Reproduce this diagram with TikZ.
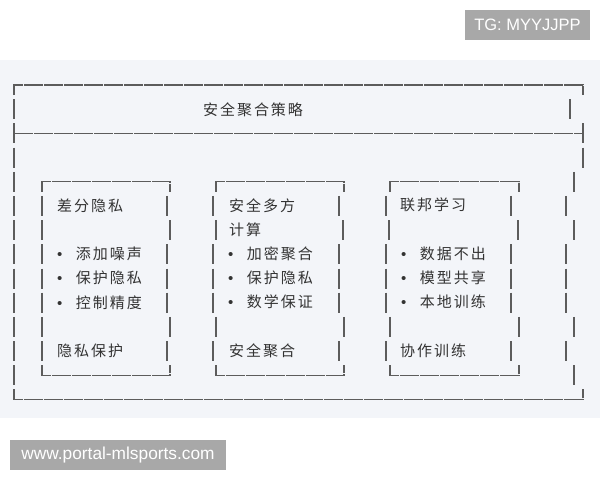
\documentclass[tikz,border=0pt]{standalone}
\usepackage{fontspec}
\newfontfamily\cjk[LetterSpace=13]{Noto Sans CJK SC}
\newfontfamily\wmfont{Liberation Sans}
\usetikzlibrary{positioning}
\definecolor{PanelBg}{HTML}{F3F5F9}
\definecolor{CLine}{HTML}{5C5C5C}
\definecolor{CText}{HTML}{333333}
\definecolor{CMark}{HTML}{A8A8A8}
\tikzset{
  boxline/.style={CLine, line width=1.1pt, dash pattern=on 19pt off 1pt},
  vbar/.style={CLine, line width=1.2pt},
  cjktext/.style={font=\cjk\fontsize{15}{18}\selectfont, text=CText, inner sep=0pt, anchor=west},
  wmbox/.style={fill=CMark, text=white, font=\wmfont\fontsize{16.5}{20}\selectfont, inner sep=0pt}
}
\newcommand{\dotitem}{{\wmfont\fontsize{15}{18}\selectfont •}\hspace{13.5pt}}

\begin{document}
\begin{tikzpicture}[x=1pt, y=-1pt]
    \useasboundingbox (0,0) rectangle (600,480);
    \fill[white] (0,0) rectangle (600,480);
    % Panel
    \fill[PanelBg] (0,60) rectangle (600,418);

    % Outer frame (rows 0, 2, 13)
    \draw[boxline] (14,95) -- (14,85) -- (583,85) -- (583,95);
    \draw[boxline] (14,{85+24.19*2}) -- (583,{85+24.19*2});
    \draw[vbar] (14,{85+24.19*2-10}) -- ++(0,20);
    \draw[vbar] (583,{85+24.19*2-10}) -- ++(0,20);
    \draw[boxline] (14,{85+24.19*13-10}) -- (14,{85+24.19*13}) -- (583,{85+24.19*13}) -- (583,{85+24.19*13-10});

    % Inner boxes: top row 4, bottom row 12
    \foreach \xa/\xb in {42/170, 216/344, 390/519} {
        \draw[boxline] (\xa,{85+24.19*4+10}) -- (\xa,{85+24.19*4}) -- (\xb,{85+24.19*4}) -- (\xb,{85+24.19*4+10});
        \draw[boxline] (\xa,{85+24.19*12-10}) -- (\xa,{85+24.19*12}) -- (\xb,{85+24.19*12}) -- (\xb,{85+24.19*12-10});
    }

    % Vertical bars, outer frame
    \foreach \x/\r in {14/1, 14/3, 14/4, 14/5, 14/6, 14/7, 14/8, 14/9, 14/10, 14/11, 14/12,
                       570/1, 583/3, 574/4, 566/5, 574/6, 566/7, 566/8, 566/9, 574/10, 566/11, 574/12}
        \draw[vbar] (\x,{85+24.19*\r-10}) -- ++(0,20);

    % Vertical bars, inner boxes
    \foreach \x/\r in {42/5, 42/6, 42/7, 42/8, 42/9, 42/10, 42/11,
                       167/5, 170/6, 167/7, 167/8, 167/9, 170/10, 167/11,
                       213/5, 216/6, 213/7, 213/8, 213/9, 216/10, 213/11,
                       339/5, 343/6, 339/7, 339/8, 339/9, 344/10, 339/11,
                       386/5, 389/6, 386/7, 386/8, 386/9, 390/10, 386/11,
                       511/5, 518/6, 511/7, 511/8, 511/9, 519/10, 511/11}
        \draw[vbar] (\x,{85+24.19*\r-10}) -- ++(0,20);

    % Title
    \node[cjktext] (title) at (203,110) {安全聚合策略};

    % Box 1
    \node[cjktext] (dp-head) at (57,206) {差分隐私};
    \node[cjktext] (dp-a) at (57,254) {\dotitem 添加噪声};
    \node[cjktext] (dp-b) at (57,278) {\dotitem 保护隐私};
    \node[cjktext] (dp-c) at (57,303) {\dotitem 控制精度};
    \node[cjktext] (dp-foot) at (57,351) {隐私保护};

    % Box 2
    \node[cjktext] (smc-head) at (229,206) {安全多方};
    \node[cjktext] (smc-head2) at (229,230) {计算};
    \node[cjktext] (smc-a) at (228,254) {\dotitem 加密聚合};
    \node[cjktext] (smc-b) at (228,278) {\dotitem 保护隐私};
    \node[cjktext] (smc-c) at (228,302) {\dotitem 数学保证};
    \node[cjktext] (smc-foot) at (229,351) {安全聚合};

    % Box 3
    \node[cjktext] (fl-head) at (400,205) {联邦学习};
    \node[cjktext] (fl-a) at (401,254) {\dotitem 数据不出};
    \node[cjktext] (fl-b) at (401,278) {\dotitem 模型共享};
    \node[cjktext] (fl-c) at (401,302) {\dotitem 本地训练};
    \node[cjktext] (fl-foot) at (400,351) {协作训练};

    % Watermarks
    \node[wmbox, minimum width=125pt, minimum height=30pt] (tg) at (527.5,25) {TG: MYYJJPP};
    \node[wmbox, minimum width=216pt, minimum height=30pt, font=\wmfont\fontsize{17.3}{20}\selectfont] (site) at (118,455) {www.portal-mlsports.com};
\end{tikzpicture}
\end{document}
